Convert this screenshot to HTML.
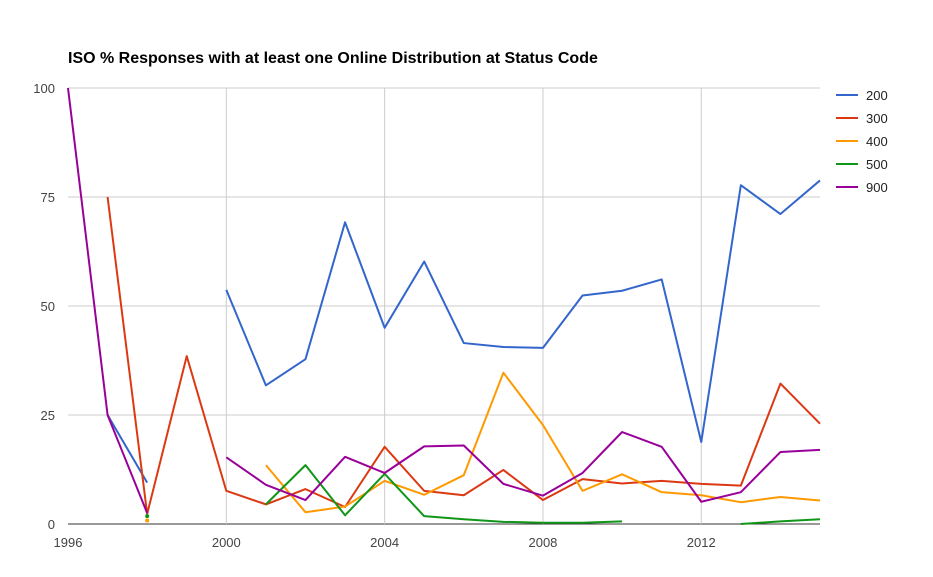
<!DOCTYPE html>
<html><head><meta charset="utf-8"><style>
html,body{margin:0;padding:0;background:#fff;width:933px;height:577px;overflow:hidden}
svg text{font-family:"Liberation Sans",Arial,sans-serif}
</style></head><body>
<svg id="chart" width="933" height="577" xmlns="http://www.w3.org/2000/svg">
<text x="68" y="63" font-size="16" font-weight="bold" fill="#000">ISO % Responses with at least one Online Distribution at Status Code</text>
<g id="grid"></g><g id="series"></g><g id="legend"></g>
</svg>
<script>
const years=[1996,1997,1998,1999,2000,2001,2002,2003,2004,2005,2006,2007,2008,2009,2010,2011,2012,2013,2014,2015];
const s200=[null,25,9.5,null,53.7,31.8,37.8,69.2,45,60.2,41.5,40.6,40.4,52.4,53.5,56.1,18.8,77.7,71.1,78.8];
const s300=[null,75,2.3,38.5,7.6,4.5,8,3.9,17.7,7.6,6.6,12.4,5.5,10.3,9.3,9.9,9.2,8.8,32.2,23];
const s400=[null,null,0.8,null,null,13.5,2.7,4.0,9.9,6.7,11.2,34.7,22.7,7.6,11.4,7.3,6.6,5,6.2,5.4];
const s500=[null,null,1.8,null,null,4.5,13.5,2,11.5,1.8,1.1,0.5,0.3,0.3,0.6,null,null,0,0.6,1.1];
const s900=[100,25,2.5,null,15.3,9,5.5,15.4,11.7,17.8,18,9.2,6.5,11.7,21.1,17.7,5.1,7.3,16.5,17];
const seriesNames=["200","300","400","500","900"];
const seriesData=[s200,s300,s400,s500,s900];
const colors=["#3366cc","#dc3912","#ff9900","#109618","#990099"];
const xTicks=[1996,2000,2004,2008,2012];
const yTicks=[0,25,50,75,100];
const NS="http://www.w3.org/2000/svg";
const X=y=>68+(y-1996)*(820-68)/19;
const Y=v=>524-v*4.36;
function mk(t,a,p){const e=document.createElementNS(NS,t);for(const k in a)e.setAttribute(k,a[k]);p.appendChild(e);return e;}
const grid=document.getElementById('grid');
yTicks.forEach(v=>{
 const l=mk('line',{x1:68,x2:820,y1:Y(v),y2:Y(v),stroke:v===0?'#333':'#ccc','stroke-width':1},grid);
 
 
 const t=mk('text',{x:55,y:Y(v)+5,'text-anchor':'end','font-size':13,fill:'#444'},grid);t.textContent=v;
 
 
});
xTicks.forEach(v=>{
 if(v!==1996){const l=mk('line',{x1:X(v),x2:X(v),y1:88,y2:524,stroke:'#ccc'},grid);
 
 }
 const t=mk('text',{x:X(v),y:547,'text-anchor':'middle','font-size':13,fill:'#444'},grid);t.textContent=v;
 
 
});
const sg=document.getElementById('series');
seriesData.forEach((d,i)=>{
 let seg=[];
 const flush=()=>{
  if(seg.length>1){const p=mk('polyline',{points:seg.join(' '),fill:'none',stroke:colors[i],'stroke-width':2,'stroke-linejoin':'round'},sg);
   
   }
  else if(seg.length===1){const [cx,cy]=seg[0].split(',');const c=mk('circle',{cx:cx,cy:cy,r:2,fill:colors[i]},sg);
   
   }
  seg=[];
 };
 d.forEach((v,j)=>{if(v===null)flush();else seg.push(X(years[j])+','+Y(v));});
 flush();
});
const lg=document.getElementById('legend');
seriesNames.forEach((n,i)=>{
 const g=mk('g',{},lg);
 
 
 const y=95+i*23;
 mk('line',{x1:836,x2:858,y1:y,y2:y,stroke:colors[i],'stroke-width':2},g);
 const t=mk('text',{x:866,y:y+5,'font-size':13,fill:'#222'},g);t.textContent=n;
});
</script>
</body></html>
